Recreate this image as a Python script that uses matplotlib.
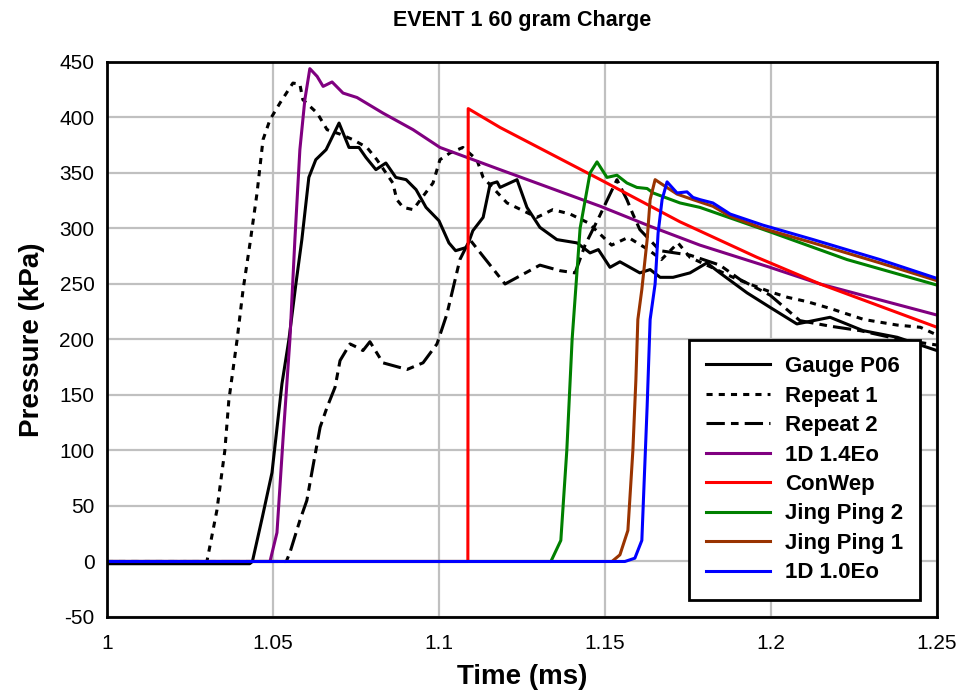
import numpy as np
import matplotlib
matplotlib.use('Agg')
import matplotlib.pyplot as plt

plt.rcParams['font.family'] = ['Liberation Sans', 'DejaVu Sans']
plt.rcParams['axes.unicode_minus'] = False

# ---- data (time in ms, pressure in kPa) ----
gauge_t = [1.0, 1.043, 1.0438, 1.0468, 1.0497, 1.0527, 1.0548, 1.0569, 1.0587, 1.0608, 1.0629, 1.066,
           1.0699, 1.0729, 1.0759, 1.078, 1.081, 1.084, 1.087, 1.0901, 1.0931, 1.0961, 1.1, 1.103, 1.105,
           1.1084, 1.1102, 1.1133, 1.1154, 1.1175, 1.1184, 1.1235, 1.1265, 1.1304, 1.1355, 1.1416, 1.1455,
           1.148, 1.1515, 1.1545, 1.1575, 1.1605, 1.1636, 1.1666, 1.1705, 1.1756, 1.1807, 1.1846, 1.1928,
           1.1997, 1.2078, 1.2178, 1.2277, 1.238, 1.25]
gauge_p = [-2, -2, 0, 40, 80, 160, 200, 250, 290, 346, 362, 371,
           395, 373, 373, 364, 353, 359, 346, 344, 335, 319, 307, 287, 280,
           283, 298, 310, 340, 342, 337, 344, 319, 301, 290, 287, 278,
           281, 265, 270, 265, 260, 263, 256, 256, 260, 269, 260, 242,
           229, 214, 220, 208, 202, 190]

rep1_t = [1.0, 1.0301, 1.0331, 1.0355, 1.0367, 1.0392, 1.041, 1.0431, 1.0452, 1.047, 1.0491, 1.0521,
          1.056, 1.0581, 1.059, 1.0633, 1.0663, 1.0702, 1.0741, 1.0783, 1.0813, 1.0861, 1.0873, 1.0892,
          1.0922, 1.0982, 1.1003, 1.1033, 1.1072, 1.1114, 1.1133, 1.1205, 1.1295, 1.1343, 1.1395, 1.145,
          1.152, 1.157, 1.163, 1.167, 1.172, 1.1756, 1.19, 1.1997, 1.205, 1.211, 1.2178, 1.228, 1.238, 1.245, 1.25]
rep1_p = [0, 0, 46, 100, 145, 200, 245, 287, 332, 380, 398, 413,
          431, 430, 416, 404, 389, 385, 380, 373, 362, 341, 326, 319,
          317, 341, 362, 368, 373, 362, 346, 323, 310, 317, 313, 305,
          285, 292, 281, 272, 287, 274, 254, 243, 238, 234, 228, 218, 213, 211, 204]

rep2_t = [1.0, 1.054, 1.0551, 1.0581, 1.0602, 1.0617, 1.0642, 1.0663, 1.0687, 1.0702, 1.0732, 1.0753,
          1.0771, 1.0792, 1.0831, 1.0904, 1.0952, 1.0994, 1.1024, 1.1063, 1.1093, 1.1199, 1.1304, 1.1364,
          1.141, 1.144, 1.1485, 1.1536, 1.1566, 1.1584, 1.1605, 1.1666, 1.1756, 1.1846, 1.1907, 1.1997,
          1.2087, 1.2178, 1.2268, 1.2389, 1.25]
rep2_p = [0, 0, 8, 37, 55, 80, 121, 139, 157, 181, 196, 193,
          190, 198, 179, 173, 179, 196, 223, 272, 290, 250, 267, 262,
          260, 285, 312, 344, 326, 313, 299, 280, 276, 267, 254, 240,
          217, 212, 208, 200, 195]

e14_t = [1.0, 1.0491, 1.0512, 1.053, 1.0551, 1.0566, 1.0581, 1.0596, 1.0611, 1.0633, 1.0651, 1.0678,
         1.0711, 1.0753, 1.0831, 1.0922, 1.1003, 1.1184, 1.1486, 1.1636, 1.1786, 1.1997, 1.2148, 1.25]
e14_p = [0, 0, 26, 109, 200, 290, 371, 416, 444, 437, 428, 432,
         422, 418, 404, 389, 373, 353, 320, 302, 285, 265, 250, 222]

conwep_t = [1.0, 1.1087, 1.1088, 1.1184, 1.1486, 1.1726, 1.1958, 1.2148, 1.25]
conwep_p = [0, 0, 408, 391, 344, 306, 274, 250, 211]

jp2_t = [1.0, 1.1337, 1.1367, 1.1385, 1.1401, 1.1425, 1.1455, 1.1476, 1.1506, 1.1536, 1.1566, 1.1596,
         1.1627, 1.1645, 1.1726, 1.1786, 1.1997, 1.2229, 1.25]
jp2_p = [0, 0, 19, 100, 200, 300, 350, 360, 346, 348, 341, 337,
         336, 332, 323, 319, 297, 272, 249]

jp1_t = [1.0, 1.1521, 1.1545, 1.1569, 1.1584, 1.1593, 1.1599, 1.1611, 1.1627, 1.1636, 1.1651, 1.1666,
         1.1717, 1.1765, 1.1825, 1.1877, 1.1976, 1.2127, 1.2328, 1.25]
jp1_p = [0, 0, 6, 28, 100, 163, 218, 245, 290, 326, 344, 341,
         331, 326, 320, 311, 300, 287, 269, 253]

e10_t = [1.0, 1.156, 1.159, 1.1611, 1.1627, 1.1636, 1.1651, 1.166, 1.1672, 1.1687, 1.1717, 1.1747,
         1.1765, 1.1786, 1.1825, 1.1877, 1.1976, 1.2127, 1.2328, 1.25]
e10_p = [0, 0, 3, 19, 140, 218, 250, 296, 326, 342, 332, 333,
         328, 326, 323, 313, 303, 290, 272, 255]

xticks = [1, 1.05, 1.1, 1.15, 1.2, 1.25]
xlabels = ['1', '1.05', '1.1', '1.15', '1.2', '1.25']
yticks = list(range(-50, 451, 50))

fig = plt.figure(figsize=(9.62, 6.91), dpi=100)
ax = fig.add_axes([0.1112, 0.1071, 0.8628, 0.8032])

lw = 2.2
ax.plot(gauge_t, gauge_p, color='black', lw=lw, label='Gauge P06')
ax.plot(rep1_t, rep1_p, color='black', lw=lw, ls=(0, (2, 2)), label='Repeat 1')
ax.plot(rep2_t, rep2_p, color='black', lw=lw, ls=(0, (6, 2, 2.5, 2)), label='Repeat 2')
ax.plot(e14_t, e14_p, color='#800080', lw=lw, label='1D 1.4Eo')
ax.plot(conwep_t, conwep_p, color='#ff0000', lw=lw, label='ConWep')
ax.plot(jp2_t, jp2_p, color='#008000', lw=lw, label='Jing Ping 2')
ax.plot(jp1_t, jp1_p, color='#993300', lw=lw, label='Jing Ping 1')
ax.plot(e10_t, e10_p, color='#0000ff', lw=lw, label='1D 1.0Eo')

ax.set_xlim(1, 1.25)
ax.set_ylim(-50, 450)
ax.set_xticks(xticks)
ax.set_xticklabels(xlabels)
ax.set_yticks(yticks)
ax.tick_params(length=0, labelsize=15)
ax.tick_params(axis='x', pad=12)
ax.tick_params(axis='y', pad=9)
ax.grid(True, color='#c0c0c0', lw=1.6)
ax.set_axisbelow(True)
for s in ax.spines.values():
    s.set_linewidth(2)
    s.set_color('black')

ax.set_xlabel('Time (ms)', fontsize=20, fontweight='bold', labelpad=8)
ax.set_ylabel('Pressure (kPa)', fontsize=20, fontweight='bold', labelpad=10)
ax.set_title('EVENT 1 60 gram Charge', fontsize=15.5, fontweight='bold', pad=26)

leg = ax.legend(loc='lower right', bbox_to_anchor=(0.9795, 0.0306), borderaxespad=0,
                fancybox=False, framealpha=1, edgecolor='black',
                prop={'weight': 'bold', 'size': 16}, handlelength=2.9, handletextpad=0.68,
                labelspacing=0.38, borderpad=0.75)
leg.get_frame().set_linewidth(2)

plt.savefig('out.png', dpi=100)
